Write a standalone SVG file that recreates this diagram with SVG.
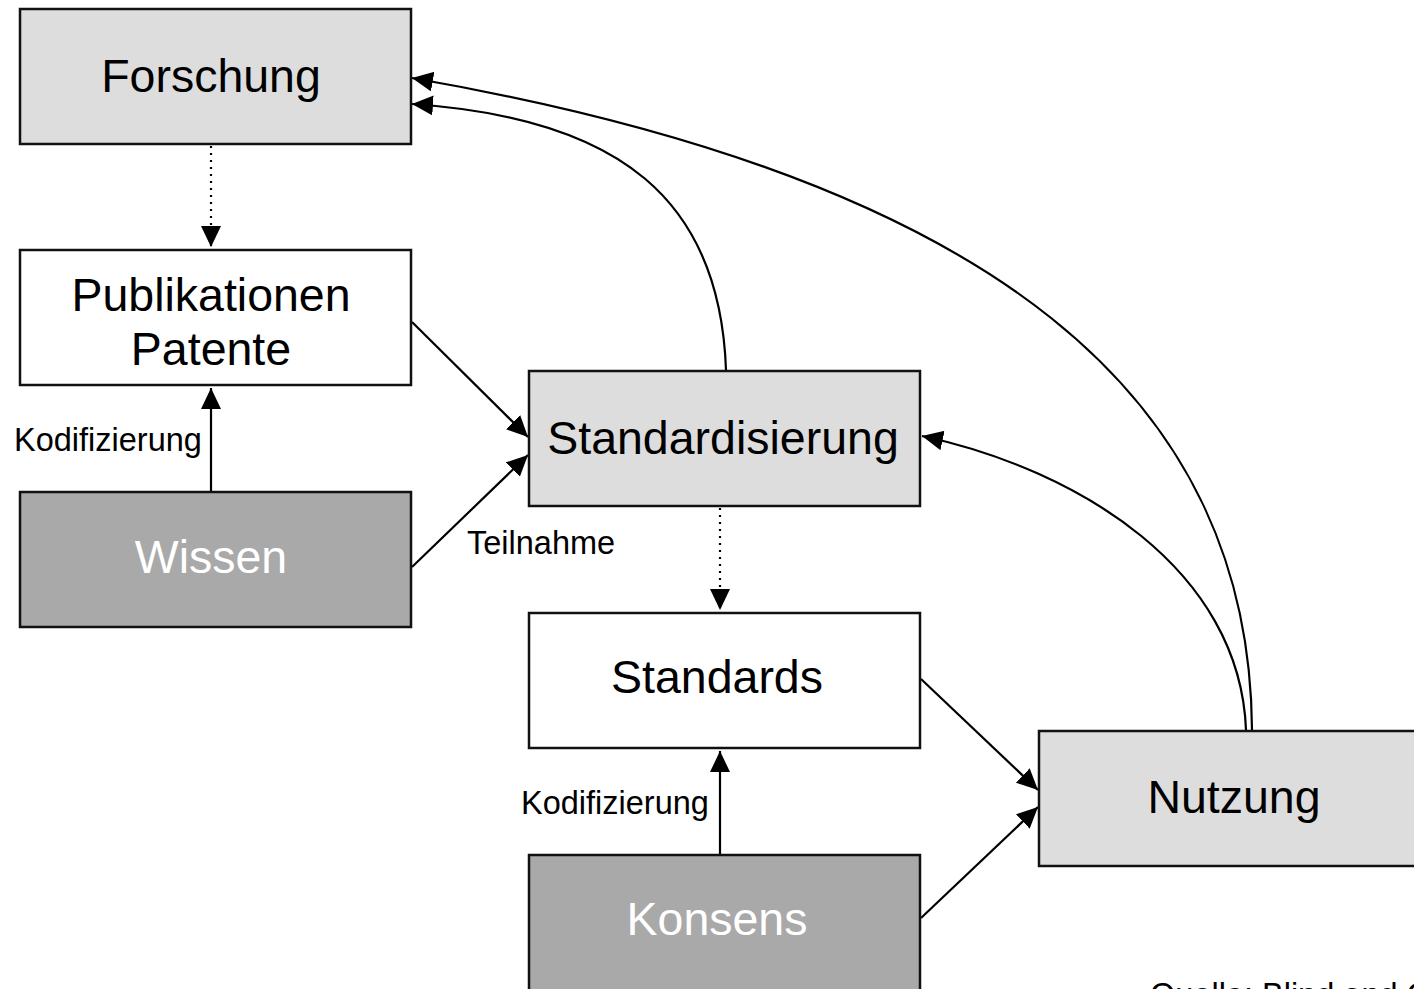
<svg xmlns="http://www.w3.org/2000/svg" width="1414" height="989" viewBox="0 0 1414 989">
<style>
.box{stroke:#111;stroke-width:2.5}
.light{fill:#dddddd}
.white{fill:#ffffff}
.dark{fill:#a9a9a9}
.t{font-family:"Liberation Sans",Arial,sans-serif;font-size:46.5px;text-anchor:middle;fill:#000}
.tw{fill:#fff}
.lbl{font-family:"Liberation Sans",Arial,sans-serif;font-size:32.5px;fill:#000}
.c{fill:none;stroke:#000;stroke-width:2.2}
.dot{stroke-dasharray:2 5}
</style>
<defs>
<marker id="ah" markerUnits="userSpaceOnUse" markerWidth="24" markerHeight="24" refX="21" refY="10" orient="auto">
<path d="M0,0 L21,10 L0,20 Z" fill="#000"/>
</marker>
</defs>
<rect width="1414" height="989" fill="#fff"/>
<g id="connectors">
<path class="c dot" d="M211,146 L211,247" marker-end="url(#ah)"/>
<path class="c" d="M211,491 L211,388" marker-end="url(#ah)"/>
<path class="c" d="M412,322 L528,437" marker-end="url(#ah)"/>
<path class="c" d="M412,567 L528,455" marker-end="url(#ah)"/>
<path class="c" d="M726,370 C720,200 620,118 412,104" marker-end="url(#ah)"/>
<path class="c" d="M1252,730 C1250,400 1000,180 412,78" marker-end="url(#ah)"/>
<path class="c" d="M1246,730 C1240,570 1080,470 922,436" marker-end="url(#ah)"/>
<path class="c dot" d="M720,508 L720,610" marker-end="url(#ah)"/>
<path class="c" d="M720,854 L720,751" marker-end="url(#ah)"/>
<path class="c" d="M921,679 L1038,790" marker-end="url(#ah)"/>
<path class="c" d="M921,918 L1038,807" marker-end="url(#ah)"/>
</g>
<g id="forschung">
<rect class="box light" x="20" y="9" width="391" height="135"/>
<text class="t" x="211" y="92">Forschung</text>
</g>
<g id="publikationen">
<rect class="box white" x="20" y="250" width="391" height="135"/>
<text class="t" x="211" y="311">Publikationen</text>
<text class="t" x="211" y="365">Patente</text>
</g>
<g id="wissen">
<rect class="box dark" x="20" y="492" width="391" height="135"/>
<text class="t tw" x="211" y="573">Wissen</text>
</g>
<g id="standardisierung">
<rect class="box light" x="529" y="371" width="391" height="135"/>
<text class="t" x="723" y="454">Standardisierung</text>
</g>
<g id="standards">
<rect class="box white" x="529" y="613" width="391" height="135"/>
<text class="t" x="717" y="693">Standards</text>
</g>
<g id="konsens">
<rect class="box dark" x="529" y="855" width="391" height="140"/>
<text class="t tw" x="717" y="935">Konsens</text>
</g>
<g id="nutzung">
<rect class="box light" x="1039" y="731" width="391" height="135"/>
<text class="t" x="1234" y="813">Nutzung</text>
</g>
<g id="labels">
<text class="lbl" x="14" y="451">Kodifizierung</text>
<text class="lbl" x="467" y="554">Teilnahme</text>
<text class="lbl" x="521" y="814">Kodifizierung</text>
<text class="lbl" x="1150" y="1006">Quelle: Blind and G</text>
</g>
</svg>
